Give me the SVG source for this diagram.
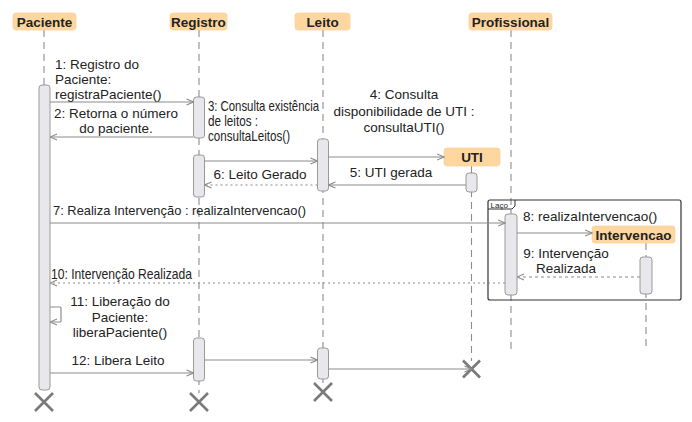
<svg xmlns="http://www.w3.org/2000/svg" width="692" height="422" viewBox="0 0 692 422">
<defs>
<marker id="arr" viewBox="0 0 8 8" refX="7.5" refY="4" markerWidth="8" markerHeight="8" markerUnits="userSpaceOnUse" orient="auto">
<path d="M0.5,1 L7.5,4 L0.5,7" fill="none" stroke="#8c8c8c" stroke-width="1.1"/>
</marker>
</defs>
<style>
.hdr{fill:#fed7a0;stroke:#fcd09a;stroke-width:0.8}
.ht{font-family:"Liberation Sans",Arial,sans-serif;font-weight:bold;font-size:13.5px;fill:#222;text-anchor:middle}
.life{stroke:#8c8c8c;stroke-width:1.1;stroke-dasharray:7 5;fill:none}
.act{fill:#e8e8ec;stroke:#9a9a9a;stroke-width:1}
.msg{stroke:#8c8c8c;stroke-width:1.2;fill:none;marker-end:url(#arr)}
.dot{stroke-dasharray:2 3}
.t{font-family:"Liberation Sans",Arial,sans-serif;font-size:13.5px;fill:#222}
.cn{font-size:14.5px}
.c{text-anchor:middle}
.x{stroke:#7a7a7a;stroke-width:2.6;fill:none}
</style>
<rect width="692" height="422" fill="#fff"/>

<g id="lifelines">
<line class="life" x1="44" y1="30" x2="44" y2="85"/>
<line class="life" x1="199" y1="30" x2="199" y2="393"/>
<line class="life" x1="323" y1="30" x2="323" y2="383"/>
<line class="life" x1="511" y1="30" x2="511" y2="350"/>
<line class="life" x1="471.5" y1="166" x2="471.5" y2="361"/>
<line class="life" x1="646" y1="243" x2="646" y2="350"/>
</g>

<g id="Paciente">
<rect class="hdr" x="13" y="13" width="63" height="17" rx="3"/>
<text class="ht" x="44.5" y="26.5">Paciente</text>
<rect class="act" x="39" y="85" width="11" height="305" rx="3"/>
<path class="x" d="M35,393 L53,411 M53,393 L35,411"/>
</g>

<g id="Registro">
<rect class="hdr" x="170" y="13" width="57" height="17" rx="3"/>
<text class="ht" x="198.5" y="26.5">Registro</text>
<rect class="act" x="193.5" y="97" width="11" height="41" rx="3"/>
<rect class="act" x="193.5" y="155" width="11" height="42" rx="3"/>
<rect class="act" x="193.5" y="338" width="11" height="43" rx="3"/>
<path class="x" d="M190,393 L208,411 M208,393 L190,411"/>
</g>

<g id="Leito">
<rect class="hdr" x="295" y="13" width="55" height="17" rx="3"/>
<text class="ht" x="322.5" y="26.5">Leito</text>
<rect class="act" x="317.5" y="139" width="11" height="52" rx="3"/>
<rect class="act" x="317.5" y="348" width="11" height="31" rx="3"/>
<path class="x" d="M314,383 L332,401 M332,383 L314,401"/>
</g>

<g id="Profissional">
<rect class="hdr" x="469" y="13" width="83" height="17" rx="3"/>
<text class="ht" x="510.5" y="26.5">Profissional</text>
<rect class="act" x="505" y="214" width="12" height="81" rx="3"/>
</g>

<g id="UTI">
<rect class="hdr" x="444" y="148" width="56" height="18" rx="3"/>
<text class="ht" x="472" y="162">UTI</text>
<rect class="act" x="466" y="173" width="11" height="19" rx="3"/>
<path class="x" d="M463,360.5 L480,377.5 M480,360.5 L463,377.5"/>
</g>

<g id="Intervencao">
<rect class="hdr" x="592" y="226" width="83" height="17" rx="3"/>
<text class="ht" x="633.5" y="239.5">Intervencao</text>
<rect class="act" x="640" y="257" width="12" height="37" rx="3"/>
</g>

<g id="loop">
<rect x="488" y="200" width="193" height="100" rx="2" fill="none" stroke="#333" stroke-width="1.2"/>
<path d="M488,209 H512 L515,206 V200" fill="none" stroke="#333" stroke-width="1"/>
<text x="490.5" y="207.5" font-family="'Liberation Sans',Arial,sans-serif" font-size="8" fill="#222">Laço</text>
</g>

<g id="connectors">
<line class="msg" x1="50" y1="102" x2="193.5" y2="102"/>
<line class="msg" x1="193.5" y1="137" x2="50" y2="137"/>
<line class="msg" x1="204.5" y1="161" x2="317.5" y2="161"/>
<line class="msg" x1="328.5" y1="157" x2="444" y2="157"/>
<line class="msg" x1="466" y1="185" x2="328.5" y2="185"/>
<line class="msg dot" x1="317.5" y1="185" x2="204.5" y2="185"/>
<line class="msg" x1="50" y1="223" x2="505" y2="223"/>
<line class="msg" x1="517" y1="233" x2="592" y2="233"/>
<line class="msg" x1="640" y1="277" x2="517" y2="277" stroke-dasharray="3 3"/>
<line class="msg dot" x1="505" y1="283" x2="50" y2="283"/>
<path class="msg" d="M50,307 H60 Q61,307 61,308 V321 Q61,322 60,322 H50"/>
<line class="msg" x1="50" y1="373" x2="193.5" y2="373"/>
<line class="msg" x1="204.5" y1="360" x2="317.5" y2="360"/>
<line class="msg" x1="328.5" y1="369" x2="471.5" y2="369"/>
</g>

<g id="labels">
<text class="t" x="55" y="69">1: Registro do</text>
<text class="t" x="55" y="84">Paciente:</text>
<text class="t" x="55" y="99">registraPaciente()</text>
<text class="t c" x="116" y="118">2: Retorna o número</text>
<text class="t c" x="116" y="133">do paciente.</text>
<text class="t cn" x="208" y="111" textLength="111" lengthAdjust="spacingAndGlyphs">3: Consulta existência</text>
<text class="t cn" x="208" y="126" textLength="50" lengthAdjust="spacingAndGlyphs">de leitos :</text>
<text class="t cn" x="208" y="141" textLength="82" lengthAdjust="spacingAndGlyphs">consultaLeitos()</text>
<text class="t c" x="404" y="99">4: Consulta</text>
<text class="t c" x="404" y="116">disponibilidade de UTI :</text>
<text class="t c" x="404" y="132">consultaUTI()</text>
<text class="t c" x="391" y="177">5: UTI gerada</text>
<text class="t c" x="260" y="179">6: Leito Gerado</text>
<text class="t" x="53" y="215" textLength="253" lengthAdjust="spacingAndGlyphs">7: Realiza Intervenção : realizaIntervencao()</text>
<text class="t" x="523" y="221">8: realizaIntervencao()</text>
<text class="t c" x="566" y="258">9: Intervenção</text>
<text class="t c" x="566" y="273">Realizada</text>
<text class="t cn" x="51" y="279" textLength="141" lengthAdjust="spacingAndGlyphs">10: Intervenção Realizada</text>
<text class="t c" x="120" y="306">11: Liberação do</text>
<text class="t c" x="120" y="322">Paciente:</text>
<text class="t c" x="120" y="337">liberaPaciente()</text>
<text class="t c" x="118" y="365">12: Libera Leito</text>
</g>
</svg>
